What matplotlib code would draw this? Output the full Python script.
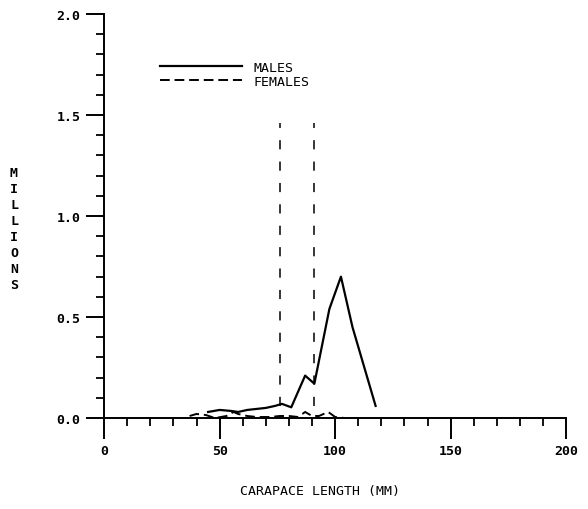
import numpy as np
import matplotlib
matplotlib.use('Agg')
import matplotlib.pyplot as plt
from matplotlib.ticker import MultipleLocator, FormatStrFormatter

# carapace length (mm) vs numbers (millions)
male_len = [45, 50, 55, 58, 62, 66, 70, 74, 77, 81, 87, 91, 97.5, 102.5, 107.5, 117.5]
male_val = [0.03, 0.04, 0.035, 0.03, 0.04, 0.045, 0.05, 0.06, 0.07, 0.053, 0.21, 0.17, 0.54, 0.70, 0.45, 0.06]

female_len = [37, 40, 44, 48, 53, 56, 58, 62, 66, 72, 76, 80, 84, 87, 90, 93, 97, 100, 104]
female_val = [0.01, 0.02, 0.015, 0.0, 0.01, 0.03, 0.02, 0.01, 0.005, 0.005, 0.01, 0.01,
              0.005, 0.03, 0.01, 0.01, 0.03, 0.005, 0.0]

cut_lines = [76.3, 91.0]   # dashed verticals
cut_top = 1.46

FONT = 'DejaVu Sans Mono'
FS = 9.5

fig = plt.figure(figsize=(5.88, 5.10), dpi=100)
ax = fig.add_axes([0.177, 0.1784, 0.786, 0.792])

ax.plot(male_len, male_val, color='black', lw=1.6, label='MALES')
ax.plot(female_len, female_val, color='black', lw=1.4, linestyle=(0, (5, 2.5)), label='FEMALES')
ax.vlines(cut_lines, 0.06, cut_top, colors='black', lw=1.1, linestyles=[(0, (6, 8))])

ax.set_xlim(0, 200)
ax.set_ylim(0, 2.0)
for s in ['top', 'right']:
    ax.spines[s].set_visible(False)
for s in ['left', 'bottom']:
    ax.spines[s].set_linewidth(1.4)

ax.xaxis.set_major_locator(MultipleLocator(50))
ax.xaxis.set_minor_locator(MultipleLocator(10))
ax.yaxis.set_major_locator(MultipleLocator(0.5))
ax.yaxis.set_minor_locator(MultipleLocator(0.1))
ax.yaxis.set_major_formatter(FormatStrFormatter('%.1f'))

ax.tick_params(axis='x', which='major', direction='out', length=15, width=1.4, pad=4)
ax.tick_params(axis='x', which='minor', direction='out', length=6, width=1.3)
ax.tick_params(axis='y', which='major', direction='out', length=13, width=1.4, pad=4)
ax.tick_params(axis='y', which='minor', direction='out', length=6, width=1.3)

for lab in ax.get_xticklabels() + ax.get_yticklabels():
    lab.set_fontfamily(FONT)
    lab.set_fontsize(FS)
    lab.set_fontweight('bold')

leg = ax.legend(loc='upper left', bbox_to_anchor=(0.121, 0.885), frameon=False,
                borderpad=0, borderaxespad=0, handlelength=6.2, handletextpad=0.9,
                labelspacing=0.08, prop={'family': FONT, 'size': FS})

fig.text(14 / 588, 1 - 230 / 510, '\n'.join('MILLIONS'), ha='center', va='center',
         family=FONT, fontsize=FS, fontweight='bold', linespacing=1.3)
fig.text(320 / 588, 1 - 492 / 510, 'CARAPACE LENGTH (MM)', ha='center', va='center',
         family=FONT, fontsize=FS)

fig.savefig('out.png', dpi=100)
